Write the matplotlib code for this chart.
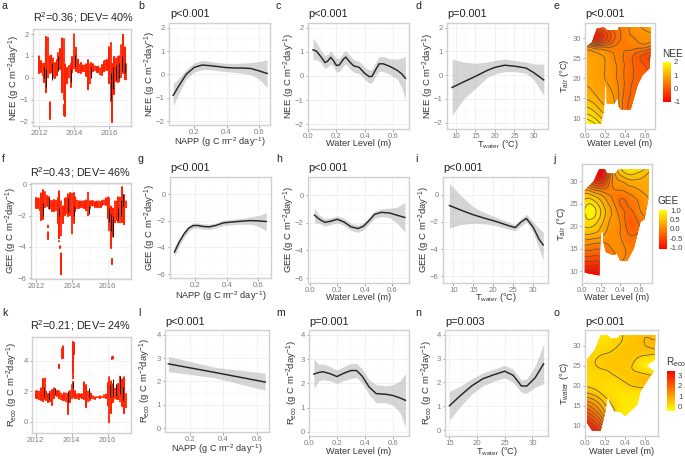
import matplotlib
matplotlib.use("Agg")
import matplotlib.pyplot as plt
import matplotlib.tri as mtri
from matplotlib.colors import LinearSegmentedColormap
from matplotlib.patches import Polygon
from matplotlib.ticker import AutoMinorLocator

plt.rcParams['font.family'] = ['Liberation Sans', 'DejaVu Sans']
plt.rcParams['mathtext.fontset'] = 'custom'
plt.rcParams['mathtext.rm'] = 'Liberation Sans'
plt.rcParams['mathtext.it'] = 'Liberation Sans:italic'
plt.rcParams['mathtext.default'] = 'regular'

W, H = 685, 458
RED = '#ff2200'
LINE = '#262626'
TICK = '#808080'
TXT = '#333333'
FRAME = '#d0d0d0'
FLUX = r'(g C m$^{-2}$day$^{-1}$)'

# ---------- time series (a, f, k) ----------
years = [2012.0, 2012.1, 2012.2, 2012.3, 2012.4, 2012.5, 2012.6, 2012.7, 2012.8, 2012.9,
         2013.0, 2013.1, 2013.2, 2013.3, 2013.4, 2013.5, 2013.6, 2013.7, 2013.8, 2013.9,
         2014.0, 2014.1, 2014.2, 2014.3, 2014.4, 2014.5, 2014.6, 2014.7, 2014.8, 2014.9,
         2015.0, 2015.1, 2015.2, 2015.3, 2015.4, 2015.5, 2015.6, 2015.7, 2015.8, 2015.9,
         2016.0, 2016.1, 2016.2, 2016.3, 2016.4, 2016.5, 2016.6, 2016.7, 2016.8, 2016.9, 2017.0]

nee_lo = [.2, .2, .1, -.2, -.7, .0, .2, .2, .0, .0,
          .1, .4, .4, -.7, -1.0, -1.75, -.3, .0, -.4, .2,
          .4, .3, .2, .2, .2, .25, .25, .1, -.55, -.3,
          .2, .25, .3, .25, .2, .15, .15, .25, .3, .35,
          -.3, -1.1, -2.0, -.8, -.2, -.2, -.2, .0, .2, -.1, -.1]
nee_hi = [1.0, .8, .7, .7, 1.85, 1.85, 1.05, 1.05, .9, .7,
          .8, 1.2, 1.3, 1.8, 1.8, .7, .5, .6, .7, 1.0,
          2.0, 1.4, .85, .7, .7, .6, .6, .7, .8, .7,
          .7, .65, .6, .55, .55, .5, .6, .75, .8, .85,
          1.4, 1.6, .7, 1.0, .9, 1.0, 1.0, 1.5, 2.0, 1.4, .7]
nee_extra_x = [2012.62, 2012.58, 2012.6, 2013.42]
nee_extra_lo = [-1.9, -1.2, -.95, -1.7]
nee_extra_hi = [-1.1, -1.2, -.95, -1.2]
nee_obs_x = [2012.3, 2012.4, 2012.75, 2013.1, 2013.8, 2014.05, 2014.95, 2016.1, 2016.25, 2016.4, 2016.6, 2016.75, 2016.9]
nee_obs_lo = [.0, -.4, -.1, .3, -.2, .5, .0, -1.0, -.5, -.1, .0, .3, .2]
nee_obs_hi = [.5, .4, .7, 1.0, .4, 1.05, .5, .2, .5, .6, .7, 1.0, .7]

gee_lo = [-1.5, -1.6, -1.7, -2.3, -2.3, -1.5, -1.4, -1.6, -1.6, -1.7,
          -1.8, -1.7, -2.5, -3.5, -3.3, -2.5, -2.0, -1.9, -2.0, -2.0,
          -3.2, -2.5, -1.8, -1.6, -1.5, -1.5, -1.5, -1.5, -1.7, -2.0,
          -1.5, -1.4, -1.4, -1.45, -1.5, -1.5, -1.45, -1.4, -1.35, -1.3,
          -2.2, -3.0, -4.1, -3.4, -2.5, -2.3, -2.5, -2.5, -2.4, -2.6, -1.5]
gee_hi = [-.85, -.9, -.9, -.5, -.35, -.5, -.7, -.8, -1.0, -1.0,
          -1.0, -1.0, -.8, -.4, -1.0, -1.3, -.9, -.8, -.6, -.55,
          -.5, -.55, -.8, -1.0, -1.0, -1.1, -1.1, -1.0, -1.0, -.5,
          -1.0, -1.0, -1.05, -1.1, -1.1, -1.1, -1.05, -1.0, -.95, -.9,
          -.8, -.9, -1.3, -1.5, -1.1, -1.1, -.8, -.8, -.2, -.6, -1.0]
gee_extra_x = [2012.65, 2012.68, 2013.28, 2013.35, 2013.42, 2013.38, 2016.25, 2016.27]
gee_extra_lo = [-3.5, -2.8, -3.7, -4.1, -5.8, -4.9, -5.1, -4.8]
gee_extra_hi = [-3.0, -2.6, -3.6, -3.9, -4.4, -4.9, -4.8, -4.8]
gee_obs_x = [2012.4, 2012.75, 2013.3, 2013.8, 2014.1, 2014.95, 2016.1, 2016.2, 2016.3, 2016.6, 2016.75, 2016.85]
gee_obs_lo = [-2.0, -1.6, -2.0, -1.8, -2.0, -1.9, -2.4, -3.0, -3.4, -2.3, -2.0, -1.4]
gee_obs_hi = [-1.2, -.9, -1.5, -.9, -1.4, -1.4, -1.5, -1.9, -2.0, -1.5, -1.0, -.6]

reco_lo = [1.55, 1.5, 1.45, 1.4, 1.3, 1.4, 1.4, 1.2, 1.3, 1.1,
           1.5, 1.7, 1.7, 1.5, 1.4, 1.4, 1.35, 1.3, .5, 1.2,
           1.5, 1.6, 1.5, 1.5, 1.5, 1.55, 1.5, 1.5, .9, 1.3,
           1.45, 1.5, 1.5, 1.5, 1.55, 1.55, 1.55, 1.55, 1.55, 1.55,
           1.0, -.1, .6, 1.2, 1.5, 1.5, 1.4, 1.3, 1.0, .5, .9]
reco_hi = [2.05, 2.0, 2.0, 2.2, 2.85, 2.85, 2.0, 1.9, 2.0, 2.1,
           2.2, 2.2, 2.1, 2.0, 1.95, 1.85, 1.9, 1.9, 1.9, 2.1,
           2.4, 2.7, 2.1, 1.9, 1.85, 1.85, 1.9, 2.7, 2.4, 2.1,
           1.9, 1.8, 1.75, 1.7, 1.7, 1.7, 1.7, 1.7, 1.75, 1.8,
           2.6, 3.0, 2.7, 2.5, 2.3, 2.4, 2.5, 3.1, 2.8, 3.0, 1.8]
reco_extra_x = [2013.28, 2013.32, 2013.47, 2013.52, 2013.9, 2014.05, 2014.1, 2014.15, 2016.05, 2016.25, 2016.3, 2016.92, 2016.9]
reco_extra_lo = [3.55, 3.6, 4.1, 4.2, 3.95, 2.8, 3.3, 4.4, -.45, 4.15, 4.15, 3.65, 3.3]
reco_extra_hi = [3.75, 3.8, 4.9, 5.0, 3.95, 5.3, 5.25, 5.2, -.45, 4.3, 4.35, 3.65, 3.3]
reco_obs_x = [2012.45, 2012.75, 2013.1, 2013.8, 2014.1, 2014.95, 2016.15, 2016.3, 2016.45, 2016.7, 2016.85]
reco_obs_lo = [1.6, 1.4, 1.8, 1.3, 2.2, 1.6, 1.6, 1.7, 1.7, 1.8, 1.4]
reco_obs_hi = [2.3, 1.9, 2.2, 2.0, 2.6, 2.2, 2.4, 2.8, 2.5, 3.0, 2.3]

# ---------- smooth effects ----------
b_x = [.07, .1, .15, .2, .25, .3, .35, .4, .45, .5, .55, .6, .65]
b_y = [-.9, -.55, .0, .3, .4, .37, .33, .29, .27, .27, .25, .15, .04]
b_lo = [-1.35, -.9, -.2, .1, .2, .2, .15, .12, .08, .05, -.02, -.2, -.55]
b_hi = [-.4, -.2, .2, .5, .6, .55, .5, .47, .47, .48, .5, .55, .62]

c_x = [.035, .06, .09, .12, .14, .16, .18, .2, .22, .25, .265, .29, .32, .36, .4, .43, .45, .47, .5, .53, .58, .63, .66, .685]
c_y = [1.08, 1.02, .8, .55, .62, .77, .62, .43, .45, .7, .78, .6, .42, .35, .1, -.03, -.02, .2, .5, .5, .38, .22, .08, -.1]
c_lo = [.65, .68, .55, .3, .38, .5, .38, .15, .18, .42, .5, .32, .15, .1, -.15, -.3, -.28, -.05, .2, .18, .05, -.15, -.5, -1.0]
c_hi = [1.55, 1.38, 1.05, .85, .9, 1.05, .88, .72, .72, .98, 1.05, .88, .68, .6, .35, .25, .25, .5, .8, .8, .7, .7, .75, .8]

d_x = [9, 12, 15, 18, 20, 22.5, 25, 28, 30, 32.5]
d_y = [-.52, -.28, -.05, .2, .33, .42, .38, .3, .1, -.2]
d_lo = [-1.7, -1.0, -.55, -.1, .05, .15, .15, .08, -.2, -.85]
d_hi = [.68, .55, .5, .55, .62, .68, .62, .55, .47, .47]

g_x = [.07, .1, .13, .16, .19, .22, .25, .29, .33, .38, .44, .5, .55, .6, .65]
g_y = [-4.35, -3.6, -3.0, -2.55, -2.35, -2.35, -2.42, -2.45, -2.35, -2.15, -2.08, -2.02, -1.98, -2.0, -2.05]
g_lo = [-4.7, -3.9, -3.25, -2.78, -2.55, -2.55, -2.62, -2.65, -2.55, -2.35, -2.3, -2.25, -2.25, -2.4, -2.75]
g_hi = [-3.95, -3.3, -2.75, -2.35, -2.15, -2.15, -2.22, -2.25, -2.15, -1.95, -1.88, -1.8, -1.7, -1.6, -1.4]

h_x = [.035, .07, .11, .15, .2, .25, .3, .35, .39, .43, .47, .52, .58, .63, .69]
h_y = [-1.45, -1.75, -1.97, -1.9, -1.75, -1.95, -2.3, -2.42, -2.25, -1.85, -1.4, -1.25, -1.3, -1.45, -1.62]
h_lo = [-2.0, -2.05, -2.25, -2.15, -2.0, -2.2, -2.55, -2.7, -2.5, -2.1, -1.68, -1.55, -1.65, -2.0, -2.65]
h_hi = [-.95, -1.45, -1.7, -1.65, -1.5, -1.7, -2.05, -2.15, -2.0, -1.6, -1.15, -1.0, -.95, -.9, -.55]

i_x = [9, 12, 15, 18, 21, 24, 25.5, 27, 28.3, 30, 31.5, 32.5]
i_y = [-.8, -1.15, -1.48, -1.75, -2.0, -2.3, -2.42, -2.0, -1.75, -2.4, -3.3, -3.7]
i_lo = [-2.45, -2.2, -2.1, -2.15, -2.3, -2.55, -2.65, -2.3, -2.0, -2.8, -4.0, -4.8]
i_hi = [.85, -.1, -.9, -1.35, -1.7, -2.05, -2.2, -1.75, -1.45, -2.0, -2.5, -2.75]

l_x = [.07, .35, .65]
l_y = [2.75, 2.38, 1.97]
l_lo = [2.42, 2.15, 1.62]
l_hi = [3.07, 2.6, 2.35]

m_x = [.035, .07, .1, .15, .2, .25, .3, .34, .38, .43, .48, .55, .6, .65, .69]
m_y = [2.38, 2.45, 2.48, 2.4, 2.28, 2.42, 2.53, 2.53, 2.3, 1.85, 1.58, 1.55, 1.5, 1.4, 1.3]
m_lo = [1.78, 2.1, 2.15, 2.1, 2.0, 2.12, 2.2, 2.25, 2.0, 1.55, 1.2, 1.2, 1.1, .8, .2]
m_hi = [3.0, 2.78, 2.8, 2.7, 2.55, 2.7, 2.82, 2.82, 2.6, 2.15, 1.95, 1.9, 1.95, 2.1, 2.4]

n_x = [15, 17, 19, 21, 23, 25, 26.5, 28, 29, 30.5, 32]
n_y = [1.02, 1.45, 1.85, 2.15, 2.32, 2.47, 2.3, 1.85, 1.85, 2.2, 2.78]
n_lo = [.42, 1.0, 1.5, 1.85, 2.05, 2.2, 2.0, 1.58, 1.55, 1.8, 1.95]
n_hi = [1.62, 1.85, 2.15, 2.4, 2.55, 2.72, 2.55, 2.1, 2.15, 2.7, 3.6]

# ---------- response surfaces ----------
wl_grid = [0, .1, .2, .3, .4, .5, .6, .7]
t_grid = [8, 10, 12, 14, 16, 18, 20, 22, 24, 26, 28, 30, 32, 34]

nee_surface = [
    [2.1, 1.9, 1.5, 1.0, .3, .15, .1, .1],
    [1.8, 1.6, 1.3, .9, .3, .15, .1, .1],
    [1.5, 1.35, 1.1, .85, .3, .15, .1, .1],
    [1.3, 1.15, .95, .8, .3, .15, .1, .1],
    [1.1, 1.0, .9, .75, .35, .15, .1, .1],
    [1.0, .95, .85, .7, .38, .15, .1, .1],
    [.95, .9, .8, .65, .38, .18, .1, .05],
    [.95, .9, .8, .65, .38, .18, .05, .0],
    [.9, .9, .8, .62, .38, .15, -.05, -.2],
    [.85, .85, .75, .58, .38, .2, .0, -.25],
    [.6, .3, .3, .42, .45, .5, .5, .4],
    [.2, -.7, -.3, .2, .5, .6, .7, .7],
    [.2, -.4, -.1, .25, .5, .7, .8, .9],
    [.2, -.2, .0, .3, .5, .7, .9, 1.0]]
nee_out_x = [.02, .16, .19, .2, .215, .22, .29, .33, .34, .36, .46, .53, .58, .65, .66, .66, .34, .33, .22, .19, .12, .07, .02]
nee_out_y = [8.6, 8.6, 12, 17.5, 20, 13.75, 13.5, 15, 13, 12.2, 12.2, 18.3, 20.8, 22.5, 27, 32.7, 32.7, 32, 32, 32.7, 32.4, 29, 28]

gee_surface = [
    [-1.2, -1.2, -1.1, -.5, -.1, -.1, -.1, -.1],
    [-1.0, -1.0, -.9, -.4, -.05, -.1, -.1, -.1],
    [-.65, -.65, -.6, -.25, .0, -.1, -.1, -.1],
    [-.3, -.3, -.3, -.1, .05, -.05, .0, .0],
    [.0, .0, -.05, .05, .05, -.1, -.05, .0],
    [.35, .35, .25, .1, .0, -.2, -.15, -.05],
    [.55, .62, .4, .15, .0, -.3, -.2, -.05],
    [.65, .85, .55, .2, -.05, -.3, -.1, .05],
    [.65, .9, .55, .2, -.15, -.2, .0, .1],
    [.5, .6, .35, .05, -.2, -.1, .05, .2],
    [.2, .1, -.1, -.05, .0, .1, .2, .3],
    [-.3, -.6, -.8, -.1, .2, .35, .35, .3],
    [-.6, -.9, -1.1, -.2, .5, .7, .6, .4],
    [-.8, -1.0, -1.1, -.2, .6, .9, .9, .7]]
gee_out_x = [.03, .13, .18, .19, .2, .22, .22, .25, .32, .365, .4, .47, .54, .61, .65, .69, .7, .38, .35, .26, .24, .18, .12, .03]
gee_out_y = [9.7, 9.3, 9.1, 15.8, 18.7, 18.7, 16.8, 14.3, 13.6, 13.9, 12.3, 12.3, 15, 21, 21.5, 25.8, 32.6, 32.6, 31.7, 31.7, 32.6, 32.6, 29.9, 28]

reco_surface = [
    [3.6, 3.4, 2.2, .7, -.1, -.2, -.2, -.2],
    [3.2, 2.7, 1.8, .5, -.1, -.2, -.2, -.2],
    [2.6, 2.1, 1.2, .3, -.1, -.2, -.2, -.2],
    [2.0, 1.5, .8, .25, -.1, -.1, -.1, -.1],
    [1.3, 1.0, .5, .1, -.1, -.1, -.1, -.1],
    [.7, .5, .2, .05, .0, .0, .0, .0],
    [.3, .2, .1, .05, .2, .35, .4, .4],
    [.1, .15, .2, .25, .4, .5, .5, .4],
    [.2, .25, .3, .4, .45, .25, .0, -.2],
    [.25, .3, .4, .45, .45, .25, -.1, -.2],
    [.0, .2, .3, .4, .5, .45, .4, .35],
    [-.2, .0, .1, .25, .4, .5, .6, .7],
    [-.2, -.1, .0, .15, .35, .5, .6, .55],
    [-.2, -.1, .0, .1, .3, .45, .5, .4]]
reco_out_x = [.02, .07, .155, .2, .23, .24, .29, .35, .4, .52, .55, .635, .685, .61, .69, .7, .35, .32, .255, .22, .155, .1, .02]
reco_out_y = [10.8, 8.9, 8.8, 13.3, 18.2, 16.2, 13.7, 13.6, 12.5, 15.4, 18.6, 21.9, 23.6, 25, 26.5, 32.6, 32.6, 31.8, 31.8, 32.6, 32.5, 29, 26.5]

heat = LinearSegmentedColormap.from_list('heat', ['#ff0000', '#ff8000', '#ffff00'])
heat_r = heat.reversed()

fig = plt.figure(figsize=(W / 100, H / 100), dpi=100)


def make_axes(box, xlim, ylim, xticks, yticks, xtl=None, grid=True):
    left, top, right, bottom = box
    ax = fig.add_axes([left / W, 1 - bottom / H, (right - left) / W, (bottom - top) / H])
    ax.set_xlim(*xlim)
    ax.set_ylim(*ylim)
    ax.set_xticks(xticks)
    ax.set_yticks(yticks)
    if xtl:
        ax.set_xticklabels(xtl)
    ax.tick_params(labelsize=5.6, colors=TICK, length=1.8, width=.5, pad=1.2)
    ax.tick_params(axis='both', which='minor', length=0)
    for s in ax.spines.values():
        s.set_color(FRAME)
        s.set_linewidth(1.0)
    if grid:
        ax.xaxis.set_minor_locator(AutoMinorLocator(2))
        ax.yaxis.set_minor_locator(AutoMinorLocator(2))
        ax.grid(True, which='major', color='#ebebeb', lw=.5)
        ax.grid(True, which='minor', color='#f3f3f3', lw=.35)
        ax.set_axisbelow(True)
    return ax


def labels(ax, box, xlabel, ylabel, xl_py, yl_px):
    left, top, right, bottom = box
    if xlabel:
        ax.set_xlabel(xlabel, fontsize=6.6, color=TXT)
        ax.xaxis.set_label_coords(.5, (bottom - xl_py) / (bottom - top), transform=ax.transAxes)
        ax.xaxis.label.set_va('center')
    ax.set_ylabel(ylabel, fontsize=6.8, color=TXT)
    ax.yaxis.set_label_coords((yl_px - 1.4 - left) / (right - left), .5, transform=ax.transAxes)
    ax.yaxis.label.set_va('center')


def ptext(px, py, s, size=7.8, ha='left', color='#222222'):
    fig.text(px / W, 1 - py / H, s, fontsize=size, ha=ha, va='center', color=color)


def series(box, xlim, ylim, yticks, lo, hi, ex, elo, ehi, ox, olo, ohi, ylabel, yl_px, title, tc):
    ax = make_axes(box, xlim, ylim, [2012, 2014, 2016], yticks)
    dots = [(0, (0.02, .75)), (.25, (0.02, .62)), (.5, (0.02, .85))]
    ax.vlines(years, lo, hi, color=RED, lw=1.55, capstyle='round', linestyles=dots, zorder=2)
    ax.vlines(ex, elo, ehi, color=RED, lw=1.55, capstyle='round', linestyles=dots, zorder=2)
    ax.vlines(ox, olo, ohi, color='#111111', lw=.7, zorder=3)
    labels(ax, box, None, ylabel, None, yl_px)
    ptext(tc[0], tc[1], title, ha='center')
    return ax


def smooth(box, xlim, ylim, xticks, yticks, x, y, lo, hi, xlabel, ylabel, xl_py, yl_px, title, tp):
    ax = make_axes(box, xlim, ylim, xticks, yticks)
    ax.fill_between(x, lo, hi, color='#b3b3b3', alpha=.55, lw=0, zorder=2)
    ax.plot(x, y, color=LINE, lw=1.05, zorder=3, solid_joinstyle='round')
    labels(ax, box, xlabel, ylabel, xl_py, yl_px)
    ptext(tp[0], tp[1], title)
    return ax


def surface(box, xlim, ylim, z, out_x, out_y, cmap, vmin, vmax, levels, ylabel, xl_py, yl_px, title, tp,
            cbox, cticks, ctl, ctitle, ctp):
    ax = make_axes(box, xlim, ylim, [0, .2, .4, .6], [10, 15, 20, 25, 30],
                   xtl=['0.0', '0.2', '0.4', '0.6'], grid=False)
    xs = [a for _ in t_grid for a in wl_grid]
    ys = [b for b in t_grid for _ in wl_grid]
    zs = [v for row in z for v in row]
    tri = mtri.Triangulation(xs, ys)
    ref, zf = mtri.UniformTriRefiner(tri).refine_field(zs, subdiv=3)
    clip = Polygon(list(zip(out_x, out_y)), closed=True, transform=ax.transData, fc='none', ec='none')
    ax.add_patch(clip)
    pc = ax.tripcolor(ref, zf, shading='gouraud', cmap=cmap, vmin=vmin, vmax=vmax, zorder=2)
    pc.set_clip_path(clip)
    cs = ax.tricontour(ref, zf, levels=levels, colors='#5a5a40', linewidths=.55, linestyles='solid', zorder=3)
    cs.set_clip_path(clip)
    labels(ax, box, 'Water Level (m)', ylabel, xl_py, yl_px)
    if title:
        ptext(tp[0], tp[1], title)
    left, top, right, bottom = cbox
    cax = fig.add_axes([left / W, 1 - bottom / H, (right - left) / W, (bottom - top) / H])
    cb = fig.colorbar(pc, cax=cax, ticks=cticks)
    cb.ax.set_yticklabels(ctl)
    cb.outline.set_visible(False)
    cb.ax.tick_params(labelsize=5.6, length=0, pad=2.2, colors='#444444')
    ptext(ctp[0], ctp[1], ctitle, size=7.2, color=TXT)
    return ax


NEE = 'NEE ' + FLUX
GEE = 'GEE ' + FLUX
RECO = r'R$_{eco}$ ' + FLUX
NAPP = 'NAPP ' + r'(g C m$^{-2}$ day$^{-1}$)'
WL = 'Water Level (m)'
TW = r'T$_{water}$ (°C)'
TA = r'T$_{air}$ (°C)'

# Row 1
series((33, 29, 131, 126), (2011.64, 2017.27), (-2.2, 2.23), [-2, -1, 0, 1, 2],
       nee_lo, nee_hi, nee_extra_x, nee_extra_lo, nee_extra_hi, nee_obs_x, nee_obs_lo, nee_obs_hi,
       NEE, 16.2, r'R$^2$=0.36; DEV= 40%', (84, 18))
smooth((169, 23, 270, 125), (.044, .668), (-2.17, 2.2), [.2, .4, .6], [-2, -1, 0, 1, 2],
       b_x, b_y, b_lo, b_hi, NAPP, NEE, 142, 152.2, 'p<0.001', (170.7, 14))
smooth((308, 23, 409, 129), (0, .71), (-2.2, 2.19), [0, .2, .4, .6], [-2, -1, 0, 1, 2],
       c_x, c_y, c_lo, c_hi, WL, NEE, 143.5, 291.2, 'p<0.001', (308.3, 14))
smooth((447, 23, 548, 129), (7.7, 33.6), (-2.27, 2.2), [10, 15, 20, 25, 30], [-2, -1, 0, 1, 2],
       d_x, d_y, d_lo, d_hi, TW, NEE, 144.5, 429.5, 'p=0.001', (447, 14))
surface((585, 23, 655, 129), (0, .705), (7.3, 33.8), nee_surface, nee_out_x, nee_out_y, heat, -1, 2,
        [-.8, -.6, -.4, -.2, 0, .2, .4, .6, .8, 1.0, 1.2, 1.4, 1.6, 1.8, 2.0],
        TA, 143.5, 566, 'p<0.001', (585, 14),
        (663, 62, 670.7, 102), [-1, 0, 1, 2], ['-1', '0', '1', '2'], 'NEE', (662, 54))

# Row 2
series((31, 183, 131, 279), (2011.72, 2017.3), (-6.05, .08), [-6, -4, -2, 0],
       gee_lo, gee_hi, gee_extra_x, gee_extra_lo, gee_extra_hi, gee_obs_x, gee_obs_lo, gee_obs_hi,
       GEE, 12.7, r'R$^2$=0.43; DEV= 46%', (81, 172.7))
smooth((170, 177, 271, 278), (.042, .68), (-6.3, 1.3), [.2, .4, .6], [-6, -4, -2, 0],
       g_x, g_y, g_lo, g_hi, NAPP, GEE, 296, 152.2, 'p<0.001', (170.7, 168))
smooth((308, 177, 409, 283), (-.012, .72), (-6.35, 1.3), [0, .2, .4, .6], [-6, -4, -2, 0],
       h_x, h_y, h_lo, h_hi, WL, GEE, 297, 291.2, 'p<0.001', (308.7, 168))
smooth((443, 177, 548, 283), (7.4, 33.7), (-6.5, 1.3), [10, 15, 20, 25, 30], [-6, -4, -2, 0],
       i_x, i_y, i_lo, i_hi, TW, GEE, 298, 425.5, 'p<0.001', (443, 168))
surface((582, 164, 652, 283), (0, .73), (7.4, 33.8), gee_surface, gee_out_x, gee_out_y, heat, -1.1, 1.0,
        [-1.0, -.8, -.6, -.4, -.2, 0, .2, .4, .6, .8],
        TA, 297, 562.7, '', (582, 155),
        (659, 210, 667, 249.3), [-1, -.5, 0, .5, 1], ['-1.0', '-0.5', '0.0', '0.5', '1.0'], 'GEE', (658, 201))

# Row 3
series((32, 337, 131, 433), (2011.8, 2017.3), (-.75, 5.58), [0, 2, 4],
       reco_lo, reco_hi, reco_extra_x, reco_extra_lo, reco_extra_hi, reco_obs_x, reco_obs_lo, reco_obs_hi,
       RECO, 14, r'R$^2$=0.21; DEV= 24%', (81, 326))
smooth((165, 330, 269, 432), (.05, .673), (-.17, 4.2), [.2, .4, .6], [0, 1, 2, 3, 4],
       l_x, l_y, l_lo, l_hi, NAPP, RECO, 449.5, 147, 'p<0.001', (165, 321.7))
smooth((309, 330, 409, 436), (0, .715), (-.17, 4.2), [0, .2, .4, .6], [0, 1, 2, 3, 4],
       m_x, m_y, m_lo, m_hi, WL, RECO, 451, 294, 'p=0.001', (309.3, 322))
smooth((445, 330, 548, 436), (14.2, 32.8), (-.25, 4.2), [15, 20, 25, 30], [0, 1, 2, 3, 4],
       n_x, n_y, n_lo, n_hi, TW, RECO, 452, 429, 'p=0.003', (445, 322))
surface((585, 330, 658, 436), (0, .725), (7.5, 33.9), reco_surface, reco_out_x, reco_out_y, heat_r, -.45, 3.5,
        [.3, .6, .9, 1.2, 1.5, 1.8, 2.1, 2.4, 2.7, 3.0, 3.3],
        TW, 451, 566, 'p<0.001', (585, 322),
        (667.3, 370.7, 675, 410.7), [0, 1, 2, 3], ['0', '1', '2', '3'], r'R$_{eco}$', (666, 362))

# Panel letters
panel_x = [2, 138, 276, 415, 553]
panel_y = [6, 159, 313]
panel_names = ['abcde', 'fghij', 'klmno']
for py, names in zip(panel_y, panel_names):
    for px, nm in zip(panel_x, names):
        ptext(px, py, nm, size=7.6)

fig.savefig('out.png', dpi=100)
